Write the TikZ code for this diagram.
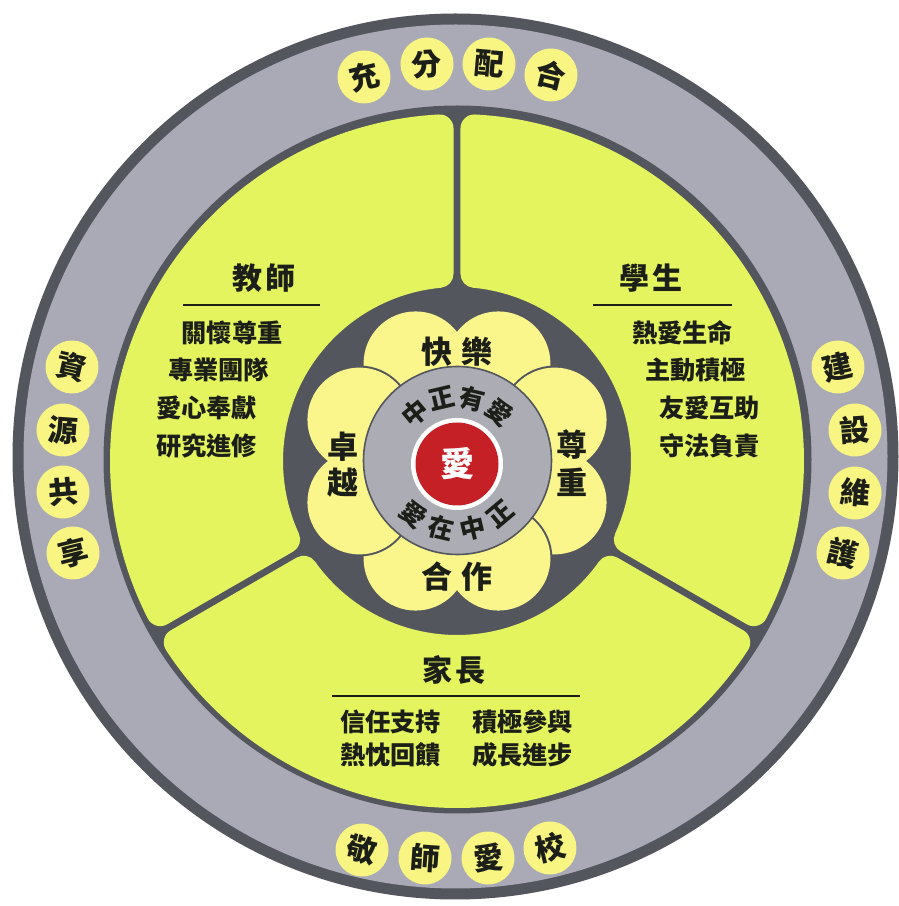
\documentclass[tikz,border=0pt]{standalone}
\usepackage{fontspec}
\setmainfont{Noto Sans CJK TC}
\definecolor{ringdark}{RGB}{84,86,94}
\definecolor{ringgray}{RGB}{170,170,182}
\definecolor{centergray}{RGB}{172,172,180}
\definecolor{limefill}{RGB}{228,244,94}
\definecolor{petalfill}{RGB}{250,246,140}
\definecolor{dotfill}{RGB}{248,245,130}
\definecolor{redc}{RGB}{196,32,38}
\definecolor{ink}{RGB}{28,30,24}
\begin{document}
\begin{tikzpicture}[x=0.5pt,y=0.5pt,
  dotc/.style={circle, fill=dotfill, minimum size=26.5pt, inner sep=0pt, text=ink, font=\fontsize{15pt}{15pt}\selectfont\bfseries},
  titletext/.style={text=ink, inner sep=0pt, font=\fontsize{15pt}{15pt}\selectfont\bfseries},
  itemtext/.style={text=ink, inner sep=0pt, font=\fontsize{12.6pt}{12.6pt}\selectfont\bfseries},
  petaltext/.style={text=ink, inner sep=0pt, font=\fontsize{15.5pt}{15.5pt}\selectfont\bfseries},
  ringtext/.style={text=ink, inner sep=0pt, font=\fontsize{12.8pt}{12.8pt}\selectfont\bfseries},
  rule/.style={draw=ink, line width=0.9pt}]
\useasboundingbox (0,0) rectangle (899,906);
\fill[white] (0,0) rectangle (899,906);
% outer ring
\fill[ringdark] (455.5,449.5) circle[radius=443];
\fill[ringgray] (455.5,449.5) circle[radius=432];
\fill[ringdark] (457.5,446.5) circle[radius=354];
% green sectors with rounded corners
\begin{scope}[shift={(457,445)}]
\foreach \a/\b in {-30/90, 90/210, 210/330}{
  \filldraw[fill=limefill, draw=limefill, line width=14pt, line join=round]
   ({\a+asin(17.5/333)}:333) arc[start angle={\a+asin(17.5/333)}, end angle={\b-asin(17.5/333)}, radius=333]
   -- ({\b-asin(17.5/188)}:188) arc[start angle={\b-asin(17.5/188)}, end angle={\a+asin(17.5/188)}, radius=188] -- cycle;
}
% flower petals
\foreach \p in {90,0,270,180}{
  \filldraw[fill=petalfill, draw=ringdark, line width=2pt] ({\p+23}:106) circle[radius=52] ({\p-23}:106) circle[radius=52];
  \fill[petalfill] ({\p+23}:106) circle[radius=52] ({\p-23}:106) circle[radius=52];
}
\end{scope}
% center
\filldraw[fill=centergray, draw=ringdark, line width=0.8pt] (457.5,445.5) circle[radius=94];
\fill[white] (457,442) circle[radius=46];
\fill[redc] (457,442) circle[radius=41.5];
\node[text=white, inner sep=0pt, font=\fontsize{17pt}{17pt}\selectfont\bfseries] (love) at (457,442) {愛};
\begin{scope}[shift={(457,443)}]
\foreach \ch/\a [count=\i] in {中/130, 正/103.33, 有/76.67, 愛/50}{
  \node[ringtext, rotate=\a-90] (top\i) at (\a:66) {\ch};
}
\foreach \ch/\a [count=\i] in {愛/230, 在/256.67, 中/283.33, 正/310}{
  \node[ringtext, rotate=\a+90] (bot\i) at (\a:67) {\ch};
}
\end{scope}
% petal words
\node[petaltext] (p1) at (437,554) {快};
\node[petaltext] (p2) at (477,554) {樂};
\node[petaltext] (p3) at (343,459) {卓};
\node[petaltext] (p4) at (343,423) {越};
\node[petaltext] (p5) at (572,461) {尊};
\node[petaltext] (p6) at (572,424) {重};
\node[petaltext] (p7) at (437,329) {合};
\node[petaltext] (p8) at (477,329) {作};
% teacher sector
\node[titletext] (tt) at (263.5,628) {教\kern1.5pt師};
\draw[rule] (183,601) -- (320,601);
\node[itemtext] (t1) at (232,573) {關懷尊重};
\node[itemtext] (t2) at (218.5,536) {專業團隊};
\node[itemtext] (t3) at (206.5,498) {愛心奉獻};
\node[itemtext] (t4) at (206.5,460) {研究進修};
% student sector
\node[titletext] (st) at (650.5,628) {學\kern1.5pt生};
\draw[rule] (593,601) -- (732,601);
\node[itemtext] (s1) at (682.5,573) {熱愛生命};
\node[itemtext] (s2) at (695.5,536) {主動積極};
\node[itemtext] (s3) at (709.5,498) {友愛互助};
\node[itemtext] (s4) at (709.5,460) {守法負責};
% parent sector
\node[titletext] (pt) at (453.5,236) {家\kern1.5pt長};
\draw[rule] (332,210) -- (580,210);
\node[itemtext] (q1) at (390.5,184) {信任支持};
\node[itemtext] (q2) at (390.5,151) {熱忱回饋};
\node[itemtext] (q3) at (522.5,184) {積極參與};
\node[itemtext] (q4) at (522.5,151) {成長進步};
% ring dots
\node[dotc, rotate=13.5] (d1) at (364,829) {充};
\node[dotc, rotate=4] (d2) at (427,842) {分};
\node[dotc, rotate=-5] (d3) at (489,842) {配};
\node[dotc, rotate=-14] (d4) at (551,831) {合};
\node[dotc, rotate=-13] (d5) at (72,539) {資};
\node[dotc, rotate=-4] (d6) at (63,476) {源};
\node[dotc, rotate=5] (d7) at (63,414) {共};
\node[dotc, rotate=14] (d8) at (73,353) {享};
\node[dotc, rotate=13] (d9) at (838,539) {建};
\node[dotc, rotate=4] (d10) at (855,476) {設};
\node[dotc, rotate=-5] (d11) at (855,413) {維};
\node[dotc, rotate=-14] (d12) at (843,353) {護};
\node[dotc, rotate=-13.3] (d13) at (362,56) {敬};
\node[dotc, rotate=-4] (d14) at (425,48) {師};
\node[dotc, rotate=5] (d15) at (488,48) {愛};
\node[dotc, rotate=13.6] (d16) at (550,58) {校};
\end{tikzpicture}
\end{document}
